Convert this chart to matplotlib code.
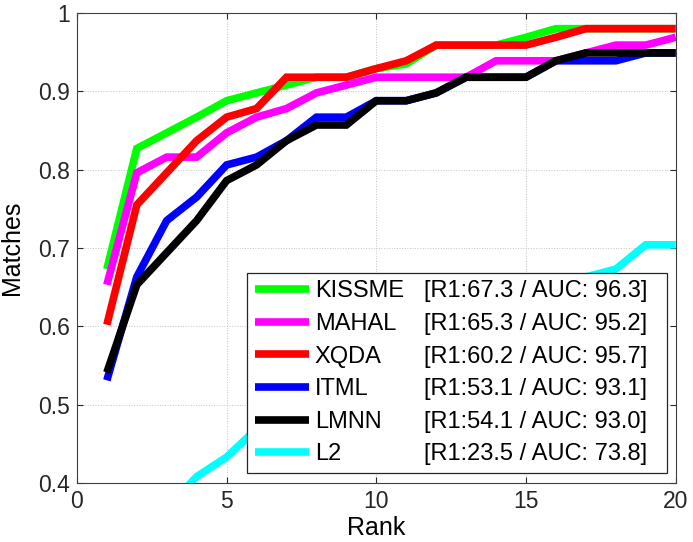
import matplotlib
matplotlib.use('Agg')
import matplotlib.pyplot as plt
from matplotlib.ticker import FormatStrFormatter

plt.rcParams['font.family'] = ['Liberation Sans', 'DejaVu Sans']

rank = list(range(1, 21))
kissme = [0.673, 0.827, 0.847, 0.867, 0.888, 0.898, 0.908, 0.918, 0.918, 0.929,
          0.935, 0.959, 0.959, 0.959, 0.969, 0.980, 0.980, 0.980, 0.980, 0.980]
mahal = [0.653, 0.796, 0.816, 0.816, 0.847, 0.867, 0.878, 0.898, 0.908, 0.918,
         0.918, 0.918, 0.918, 0.939, 0.939, 0.939, 0.949, 0.959, 0.959, 0.969]
xqda = [0.602, 0.755, 0.796, 0.837, 0.867, 0.878, 0.918, 0.918, 0.918, 0.929,
        0.939, 0.959, 0.959, 0.959, 0.959, 0.969, 0.980, 0.980, 0.980, 0.980]
itml = [0.531, 0.663, 0.735, 0.765, 0.806, 0.816, 0.837, 0.867, 0.867, 0.888,
        0.888, 0.898, 0.918, 0.918, 0.918, 0.939, 0.939, 0.939, 0.949, 0.949]
lmnn = [0.541, 0.653, 0.694, 0.735, 0.786, 0.806, 0.837, 0.857, 0.857, 0.888,
        0.888, 0.898, 0.918, 0.918, 0.918, 0.939, 0.949, 0.949, 0.949, 0.949]
l2 = [0.235, 0.330, 0.367, 0.408, 0.433, 0.469, 0.500, 0.520, 0.540, 0.561,
      0.580, 0.600, 0.610, 0.622, 0.633, 0.653, 0.663, 0.673, 0.704, 0.704]

names = ['KISSME', 'MAHAL', 'XQDA', 'ITML', 'LMNN', 'L2']
scores = ['[R1:67.3 / AUC: 96.3]', '[R1:65.3 / AUC: 95.2]', '[R1:60.2 / AUC: 95.7]',
          '[R1:53.1 / AUC: 93.1]', '[R1:54.1 / AUC: 93.0]', '[R1:23.5 / AUC: 73.8]']
colors = ['#00ff00', '#ff00ff', '#ff0000', '#0000ff', '#000000', '#00ffff']
series = [kissme, mahal, xqda, itml, lmnn, l2]

fig = plt.figure(figsize=(6.93, 5.42), dpi=100)
ax = fig.add_axes([0.111, 0.109, 0.864, 0.867])

for vals, c, n in zip(series, colors, names):
    ax.plot(rank, vals, color=c, lw=5.5, label=n, solid_capstyle='butt', solid_joinstyle='miter')

ax.set_xlim(0, 20)
ax.set_ylim(0.4, 1)
ax.set_xticks([0, 5, 10, 15, 20])
ax.set_yticks([0.4, 0.5, 0.6, 0.7, 0.8, 0.9, 1.0])
ax.yaxis.set_major_formatter(FormatStrFormatter('%g'))
ax.grid(True, color='#c4c4c4', ls=':', lw=0.7)
ax.tick_params(direction='in', top=True, right=True, labelsize=16.5, length=4,
               colors='#262626', pad=5)
for s in ax.spines.values():
    s.set_color('#404040')
    s.set_linewidth(0.8)
ax.set_xlabel('Rank', fontsize=18, labelpad=2)
ax.set_ylabel('Matches', fontsize=18, labelpad=10)

leg = ax.legend(loc='lower left', bbox_to_anchor=(0.284, 0.021, 0.701, 0.426), mode='expand',
                fontsize=17, fancybox=False, framealpha=1, edgecolor='#262626',
                handlelength=2.3, handletextpad=0.25, borderpad=0.32, labelspacing=0.45,
                borderaxespad=0)
leg.get_frame().set_linewidth(0.9)

fig.canvas.draw()
inv = ax.transAxes.inverted()
for t, s in zip(leg.get_texts(), scores):
    bb = t.get_window_extent()
    y = inv.transform((0, (bb.y0 + bb.y1) / 2))[1]
    ax.text(0.579, y, s, transform=ax.transAxes, fontsize=17, va='center', ha='left', zorder=10)

fig.savefig('out.png', dpi=100)
